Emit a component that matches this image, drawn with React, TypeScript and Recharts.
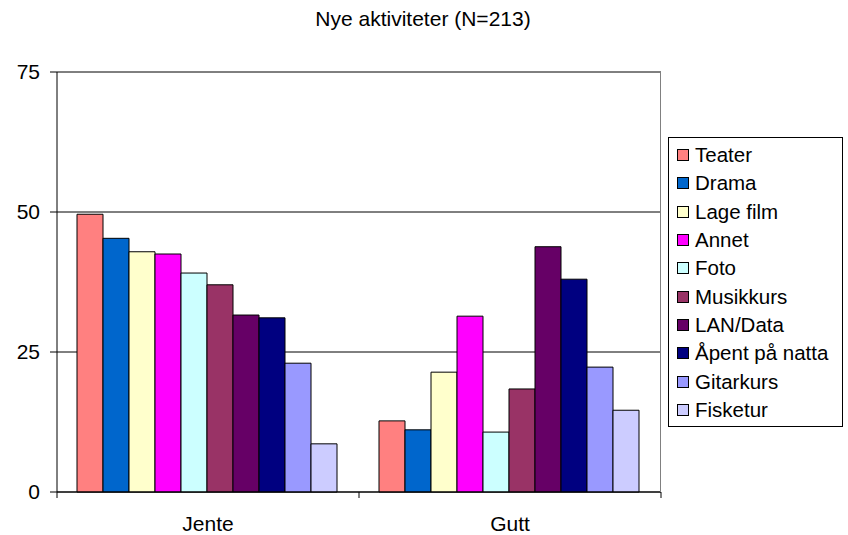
import { Bar, BarChart, CartesianGrid, ReferenceLine, XAxis, YAxis } from "recharts";

const categories = ["Jente", "Gutt"];

const seriesNames = [
  "Teater",
  "Drama",
  "Lage film",
  "Annet",
  "Foto",
  "Musikkurs",
  "LAN/Data",
  "Åpent på natta",
  "Gitarkurs",
  "Fisketur",
];

const seriesColors = [
  "#FF8080",
  "#0066CC",
  "#FFFFCC",
  "#FF00FF",
  "#CCFFFF",
  "#993366",
  "#660066",
  "#000080",
  "#9999FF",
  "#CCCCFF",
];

// values per series: [Jente, Gutt]
const teater = [49.6, 12.7];
const drama = [45.3, 11.1];
const lageFilm = [42.9, 21.4];
const annet = [42.5, 31.4];
const foto = [39.1, 10.7];
const musikkurs = [37.0, 18.4];
const lanData = [31.6, 43.8];
const apentPaNatta = [31.1, 38.0];
const gitarkurs = [23.0, 22.3];
const fisketur = [8.6, 14.6];

const seriesValues = [
  teater,
  drama,
  lageFilm,
  annet,
  foto,
  musikkurs,
  lanData,
  apentPaNatta,
  gitarkurs,
  fisketur,
];

const yTicks = [0, 25, 50, 75];

const data = categories.map((label, i) => {
  const row: Record<string, string | number> = { label };
  seriesNames.forEach((name, s) => {
    row[`s${s}`] = seriesValues[s][i];
  });
  return row;
});

const FONT = "Arial, 'Liberation Sans', sans-serif";

function CategoryTick(props: any) {
  const { x, y, payload, index } = props;
  const half = payload?.offset ?? 0;
  const isLast = index === categories.length - 1;
  return (
    <g>
      <line x1={x - half} y1={y - 10} x2={x - half} y2={y - 4} stroke="#000" />
      {isLast && (
        <line x1={x + half} y1={y - 10} x2={x + half} y2={y - 4} stroke="#000" />
      )}
      <text
        x={x}
        y={y + 29}
        textAnchor="middle"
        fontSize={21}
        fontFamily={FONT}
        fill="#000"
      >
        {payload.value}
      </text>
    </g>
  );
}

function LegendBox() {
  return (
    <div
      style={{
        position: "absolute",
        left: 668,
        top: 137,
        border: "1px solid #000",
        width: 175,
        height: 290,
        boxSizing: "border-box",
        padding: "3px 0 0 8px",
        fontFamily: FONT,
        fontSize: 20.5,
        background: "#fff",
      }}
    >
      {seriesNames.map((name, i) => (
        <div
          key={name}
          style={{ display: "flex", alignItems: "center", height: 28.3 }}
        >
          <span
            style={{
              width: 12,
              height: 12,
              boxSizing: "border-box",
              border: "1px solid #000",
              background: seriesColors[i],
              marginRight: 6,
              flexShrink: 0,
            }}
          />
          <span style={{ whiteSpace: "nowrap" }}>{name}</span>
        </div>
      ))}
    </div>
  );
}

export default function App() {
  return (
    <div
      style={{
        position: "fixed",
        top: 0,
        left: 0,
        width: 848,
        height: 535,
        background: "#fff",
        overflow: "visible",
      }}
    >
      <div
        style={{
          position: "absolute",
          top: 7,
          left: 0,
          width: 846,
          textAlign: "center",
          fontFamily: FONT,
          fontSize: 21,
        }}
      >
        Nye aktiviteter (N=213)
      </div>
      <BarChart
        width={848}
        height={535}
        data={data}
        margin={{ top: 72, right: 187, left: 17, bottom: 13 }}
        barCategoryGap={20}
        barGap={0}
        style={{ overflow: "visible" }}
      >
        <CartesianGrid vertical={false} stroke="#000" strokeOpacity={1} />
        <ReferenceLine y={75} stroke="#808080" />
        <XAxis
          dataKey="label"
          height={30}
          axisLine={{ stroke: "#000" }}
          tickLine={false}
          tick={<CategoryTick />}
          interval={0}
          tickSize={8}
        />
        <YAxis
          width={40}
          domain={[0, 75]}
          ticks={yTicks}
          axisLine={{ stroke: "#000" }}
          tickLine={{ stroke: "#000" }}
          tickSize={7}
          tickMargin={10}
          tick={{ fill: "#000", fontSize: 21, fontFamily: FONT }}
          interval={0}
        />
        {seriesNames.map((name, s) => (
          <Bar
            key={name}
            dataKey={`s${s}`}
            name={name}
            fill={seriesColors[s]}
            stroke="#000"
            strokeWidth={1}
            isAnimationActive={false}
          />
        ))}
      </BarChart>
      <div
        style={{
          position: "absolute",
          left: 660,
          top: 72,
          width: 1,
          height: 420,
          background: "#808080",
        }}
      />
      <LegendBox />
    </div>
  );
}
